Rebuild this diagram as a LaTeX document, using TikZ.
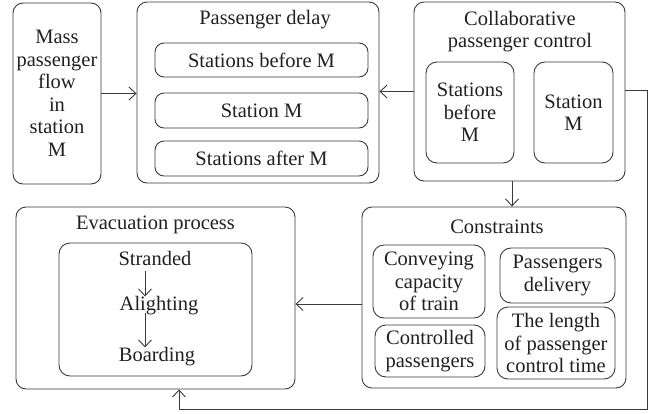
\documentclass[tikz,border=0pt]{standalone}
\usepackage{fontspec}
\setmainfont{Liberation Serif}
\usetikzlibrary{arrows.meta}
\definecolor{ln}{HTML}{3A3A3A}
\definecolor{tx}{HTML}{231F20}
\tikzset{
  every node/.style={font=\fontsize{20.5}{22.5}\selectfont, text=tx, align=center, inner sep=1pt},
  outerbox/.style={draw=ln, line width=0.9pt, rounded corners=10pt},
  innerbox/.style={draw=ln, line width=0.9pt, rounded corners=11pt},
  pillbox/.style={draw=ln, line width=0.9pt, rounded corners=9pt},
  arr/.style={draw=ln, line width=0.9pt, -{Straight Barb[length=7pt,width=13pt]}},
  conn/.style={draw=ln, line width=0.9pt},
}
\begin{document}
\begin{tikzpicture}[x=1pt,y=-1pt]
\useasboundingbox (0,0) rectangle (650,413);
% Mass passenger flow
\node[outerbox, minimum width=88pt, minimum height=181pt] (mass) at (57,93.5)
  {Mass\\passenger\\flow\\in\\station\\M};
% Passenger delay
\node[outerbox, minimum width=242pt, minimum height=181pt] (delay) at (258,92.5) {};
\node (delayt) at (265,20) {Passenger delay};
\node[pillbox, minimum width=213pt, minimum height=34pt] (d1) at (261.5,60) {Stations before M};
\node[pillbox, minimum width=213pt, minimum height=35pt] (d2) at (261.5,110.5) {Station M};
\node[pillbox, minimum width=213pt, minimum height=35pt] (d3) at (261.5,158.5) {Stations after M};
% Collaborative passenger control
\node[outerbox, minimum width=211pt, minimum height=179pt] (collab) at (519.5,91.5) {};
\node (collabt) at (520,31.5) {Collaborative\\passenger control};
\node[innerbox, minimum width=88pt, minimum height=101pt] (c1) at (470,112.5) {Stations\\before\\M};
\node[innerbox, minimum width=79pt, minimum height=101pt] (c2) at (573.5,112.5) {Station\\M};
% Constraints
\node[outerbox, minimum width=264pt, minimum height=181pt] (cons) at (494,297.5) {};
\node (const) at (497,227) {Constraints};
\node[innerbox, minimum width=112pt, minimum height=73pt] (k1) at (429,281.5) {Conveying\\capacity\\of train};
\node[innerbox, minimum width=115pt, minimum height=55pt] (k2) at (557.5,275.5) {Passengers\\delivery};
\node[innerbox, minimum width=110pt, minimum height=52pt] (k3) at (430,351) {Controlled\\passengers};
\node[innerbox, minimum width=118pt, minimum height=72pt] (k4) at (556,343) {The length\\of passenger\\control time};
% Evacuation process
\node[outerbox, minimum width=279pt, minimum height=182pt] (evac) at (155.5,298) {};
\node (evact) at (155.5,225) {Evacuation process};
\node[innerbox, minimum width=193pt, minimum height=133pt] (evin) at (155.5,309.5) {};
\node (strand) at (155,258) {Stranded};
\node (alight) at (159,306) {Alighting};
\node (board) at (157,357) {Boarding};
% helper coordinates
\coordinate (ax) at (145,0);
\coordinate (cx) at (512,0);
\coordinate (ay) at (0,304);
\coordinate (fr) at (647,409);
\coordinate (fb) at (179,0);
% connectors
\draw[arr] (strand.south -| ax) ++(0,5) -- ([yshift=-1pt]alight.north -| ax);
\draw[arr] ([yshift=4pt]alight.south -| ax) -- ([yshift=-1pt]board.north -| ax);
\draw[arr] (mass.east) -- (mass.east -| delay.west);
\draw[arr] (collab.west) -- (collab.west -| delay.east);
\draw[arr] (collab.south -| cx) -- (cons.north -| cx);
\draw[arr] (cons.west |- ay) -- (evac.east |- ay);
\draw[arr] ([yshift=1.5pt]collab.east) -| (fr) -| (evac.south -| fb);
\end{tikzpicture}
\end{document}
